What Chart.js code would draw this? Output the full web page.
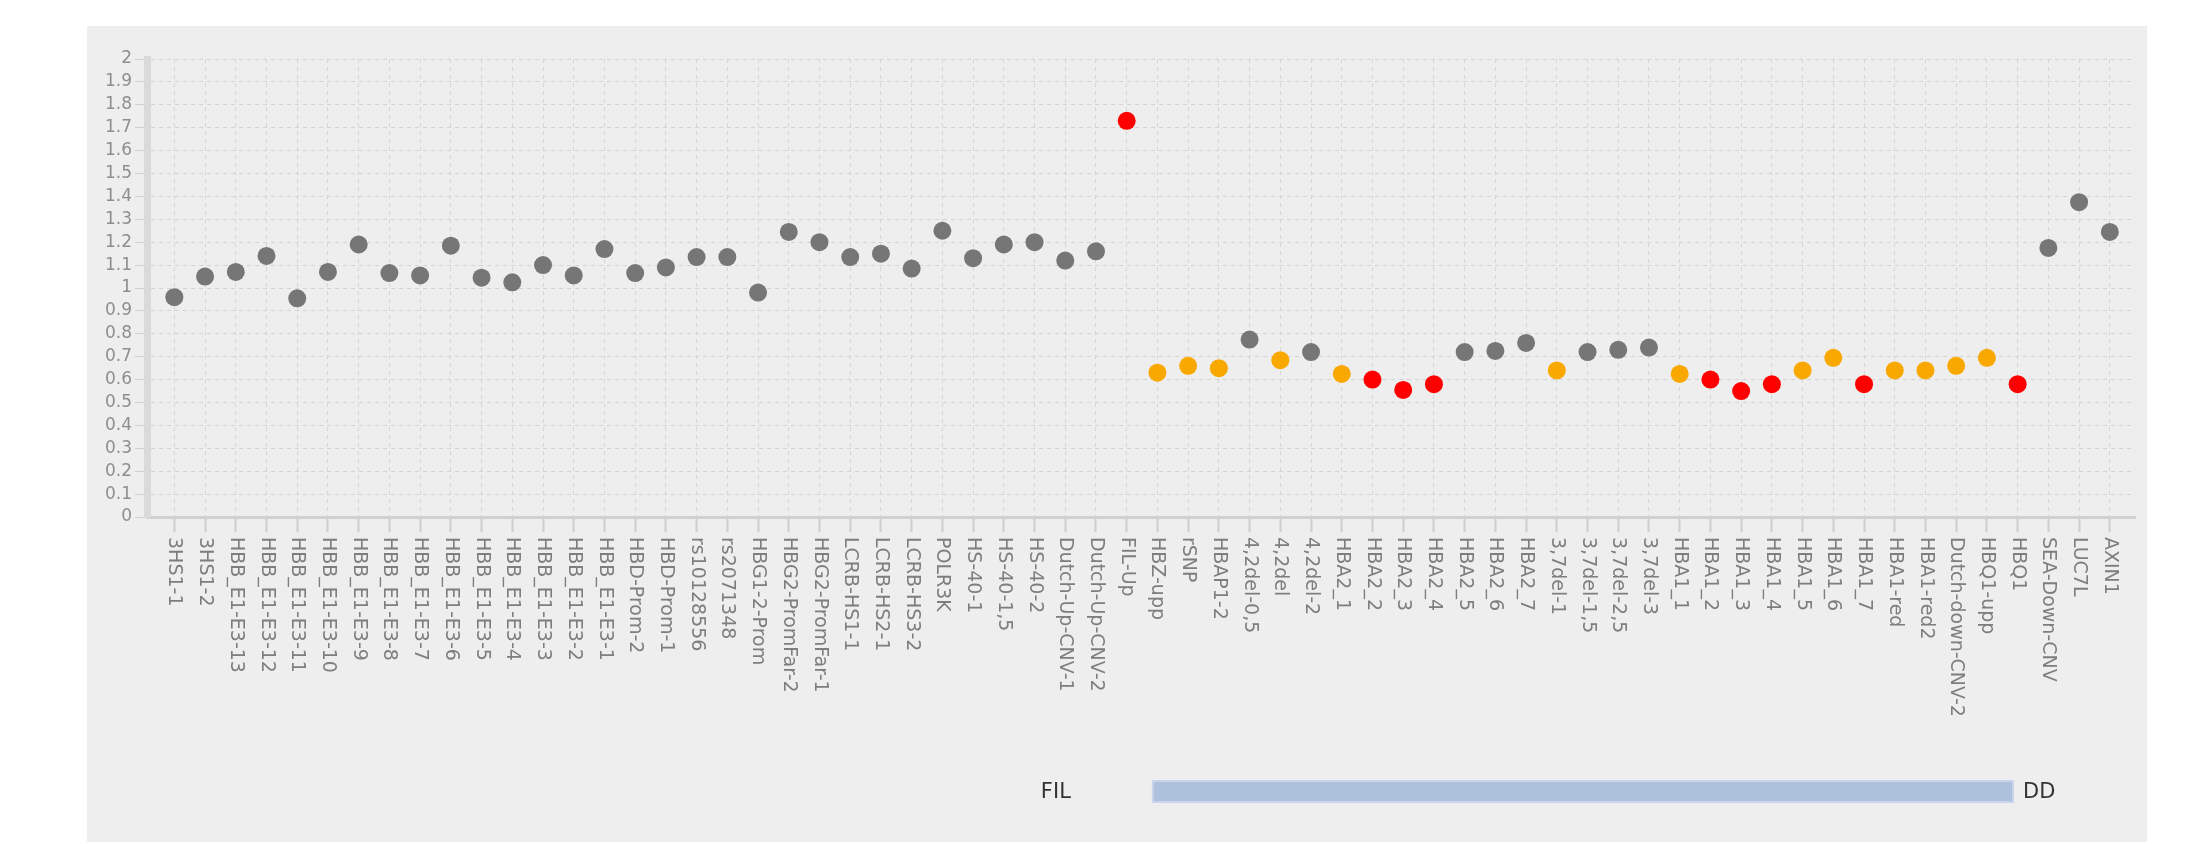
<!DOCTYPE html>
<html>
<head>
<meta charset="utf-8">
<title>Probe ratios</title>
<script src="https://cdn.jsdelivr.net/npm/chart.js@4.4.0/dist/chart.umd.min.js"></script>
<style>
    html, body { margin: 0; padding: 0; background: #ffffff; }
    .panel { position: absolute; left: 87px; top: 26px; width: 2060px; height: 816px; background: #eeeeee; }
    canvas { display: block; }
</style>
</head>
<body>
<div class="panel"><canvas id="ratioChart" width="2060" height="816"></canvas></div>
<script>
        // Probe names along the x axis
        const probes = [
            '3HS1-1', '3HS1-2', 'HBB_E1-E3-13', 'HBB_E1-E3-12', 'HBB_E1-E3-11', 'HBB_E1-E3-10',
            'HBB_E1-E3-9', 'HBB_E1-E3-8', 'HBB_E1-E3-7', 'HBB_E1-E3-6', 'HBB_E1-E3-5', 'HBB_E1-E3-4',
            'HBB_E1-E3-3', 'HBB_E1-E3-2', 'HBB_E1-E3-1', 'HBD-Prom-2', 'HBD-Prom-1', 'rs10128556',
            'rs2071348', 'HBG1-2-Prom', 'HBG2-PromFar-2', 'HBG2-PromFar-1', 'LCRB-HS1-1', 'LCRB-HS2-1',
            'LCRB-HS3-2', 'POLR3K', 'HS-40-1', 'HS-40-1,5', 'HS-40-2', 'Dutch-Up-CNV-1',
            'Dutch-Up-CNV-2', 'FIL-Up', 'HBZ-upp', 'rSNP', 'HBAP1-2', '4,2del-0,5',
            '4,2del', '4,2del-2', 'HBA2_1', 'HBA2_2', 'HBA2_3', 'HBA2_4',
            'HBA2_5', 'HBA2_6', 'HBA2_7', '3,7del-1', '3,7del-1,5', '3,7del-2,5',
            '3,7del-3', 'HBA1_1', 'HBA1_2', 'HBA1_3', 'HBA1_4', 'HBA1_5',
            'HBA1_6', 'HBA1_7', 'HBA1-red', 'HBA1-red2', 'Dutch-down-CNV-2', 'HBQ1-upp',
            'HBQ1', 'SEA-Down-CNV', 'LUC7L', 'AXIN1'
        ];

        // Ratio per probe
        const ratios = [
            0.96, 1.05, 1.07, 1.14, 0.955, 1.07,
            1.19, 1.065, 1.055, 1.185, 1.045, 1.025,
            1.10, 1.055, 1.17, 1.065, 1.09, 1.135,
            1.135, 0.98, 1.245, 1.20, 1.135, 1.15,
            1.085, 1.25, 1.13, 1.19, 1.20, 1.12,
            1.16, 1.73, 0.63, 0.66, 0.65, 0.775,
            0.685, 0.72, 0.625, 0.60, 0.555, 0.58,
            0.72, 0.725, 0.76, 0.64, 0.72, 0.73,
            0.74, 0.625, 0.60, 0.55, 0.58, 0.64,
            0.695, 0.58, 0.64, 0.64, 0.66, 0.695,
            0.58, 1.175, 1.375, 1.245
        ];

        // Call per probe: n = normal, o = borderline, r = deleted / gained
        const calls = [
            'n', 'n', 'n', 'n', 'n', 'n',
            'n', 'n', 'n', 'n', 'n', 'n',
            'n', 'n', 'n', 'n', 'n', 'n',
            'n', 'n', 'n', 'n', 'n', 'n',
            'n', 'n', 'n', 'n', 'n', 'n',
            'n', 'r', 'o', 'o', 'o', 'n',
            'o', 'n', 'o', 'r', 'r', 'r',
            'n', 'n', 'n', 'o', 'n', 'n',
            'n', 'o', 'r', 'r', 'r', 'o',
            'o', 'r', 'o', 'o', 'o', 'o',
            'r', 'n', 'n', 'n'
        ];
        const callColors = { n: '#767676', o: '#f9a800', r: '#ff0000' };

        // Deletion span shown under the chart
        const deletionFrom = 'HBZ-upp';
        const deletionTo = 'HBQ1';
        const deletionNames = ['FIL', 'DD'];

        // Rotated probe labels (reading top to bottom)
        const verticalLabels = {
            id: 'verticalLabels',
            afterDraw(chart) {
                const { ctx, chartArea, scales: { x } } = chart;
                ctx.save();
                ctx.font = '19px "DejaVu Sans"';
                ctx.fillStyle = '#7e7e7e';
                ctx.textAlign = 'left';
                ctx.textBaseline = 'middle';
                probes.forEach((name, i) => {
                    ctx.save();
                    ctx.translate(x.getPixelForValue(i), chartArea.bottom + 20);
                    ctx.rotate(Math.PI / 2);
                    ctx.fillText(name, 0, 0);
                    ctx.restore();
                });
                ctx.restore();
            }
        };

        // FIL ... DD bar
        const deletionBar = {
            id: 'deletionBar',
            afterDraw(chart) {
                const { ctx, scales: { x } } = chart;
                const step = x.getPixelForValue(1) - x.getPixelForValue(0);
                const x1 = x.getPixelForValue(probes.indexOf(deletionFrom)) - step * 0.15;
                const x2 = x.getPixelForValue(probes.indexOf(deletionTo)) - step * 0.15;
                const top = 755, h = 21;
                ctx.save();
                ctx.fillStyle = '#adc1dd';
                ctx.fillRect(x1, top, x2 - x1, h);
                ctx.strokeStyle = '#c8d5ea';
                ctx.lineWidth = 2;
                ctx.strokeRect(x1, top, x2 - x1, h);
                ctx.font = '21px "DejaVu Sans"';
                ctx.fillStyle = '#333333';
                ctx.textBaseline = 'middle';
                ctx.textAlign = 'right';
                ctx.fillText(deletionNames[0], x1 - 82, top + h / 2 + 1);
                ctx.textAlign = 'left';
                ctx.fillText(deletionNames[1], x2 + 10, top + h / 2 + 1);
                ctx.restore();
            }
        };

        // Ratio Chart
        const ctx = document.getElementById('ratioChart').getContext('2d');
        const ratioChart = new Chart(ctx, {
            type: 'scatter',
            data: {
                datasets: [{
                    label: 'Ratio',
                    data: ratios.map((v, i) => ({ x: i, y: v })),
                    pointBackgroundColor: calls.map(c => callColors[c]),
                    pointBorderWidth: 0,
                    pointRadius: 9,
                    pointHoverRadius: 9
                }]
            },
            options: {
                responsive: false,
                animation: false,
                layout: {
                    padding: { top: 33, right: 12, left: 0, bottom: 0 }
                },
                scales: {
                    x: {
                        type: 'linear',
                        min: -0.89,
                        max: 63.82,
                        afterBuildTicks: function(axis) {
                            axis.ticks = probes.map((_, i) => ({ value: i }));
                        },
                        afterFit: function(axis) {
                            axis.height = 325;
                        },
                        ticks: { display: false },
                        grid: {
                            color: '#d6d6d6',
                            tickColor: '#cdcdcd',
                            tickLength: 15,
                            tickWidth: 2
                        },
                        border: {
                            color: '#d0d0d0',
                            width: 3,
                            dash: [4, 4]
                        }
                    },
                    y: {
                        min: 0,
                        max: 2,
                        afterFit: function(axis) {
                            axis.width = 60;
                        },
                        ticks: {
                            stepSize: 0.1,
                            autoSkip: false,
                            padding: 3,
                            color: '#8e8e8e',
                            font: { family: 'DejaVu Sans', size: 17 },
                            callback: function(value) {
                                return String(+value.toFixed(1));
                            }
                        },
                        grid: {
                            color: '#d4d4d4',
                            tickColor: '#d0d0d0',
                            tickLength: 12
                        },
                        border: {
                            color: '#dadada',
                            width: 7,
                            dash: [4, 4]
                        }
                    }
                },
                plugins: {
                    legend: { display: false },
                    tooltip: { enabled: false }
                }
            },
            plugins: [verticalLabels, deletionBar]
        });
</script>
</body>
</html>
